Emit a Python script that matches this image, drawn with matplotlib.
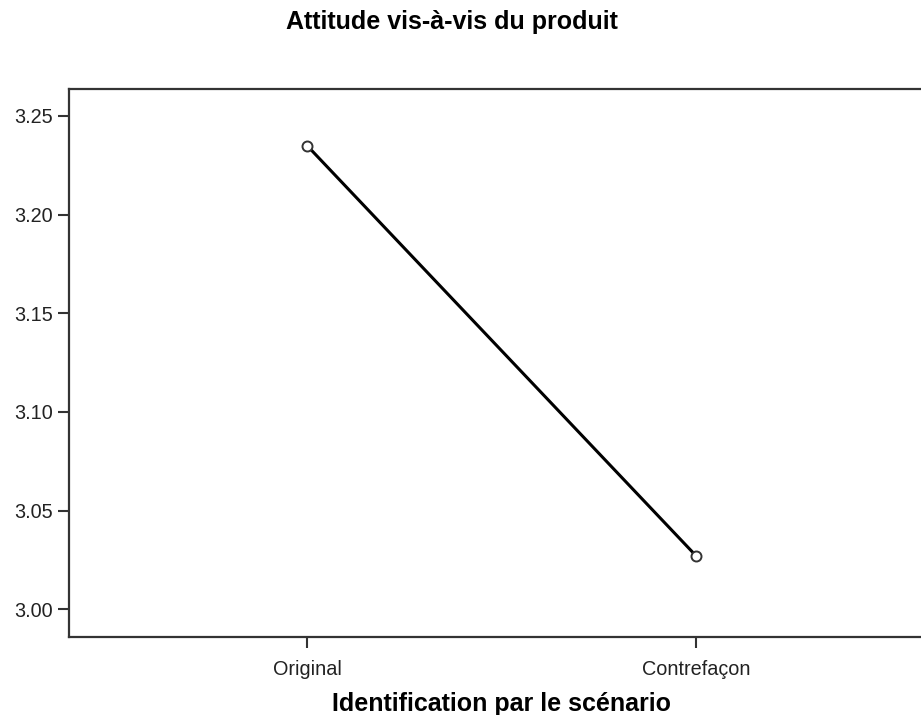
import matplotlib
matplotlib.use("Agg")
import matplotlib.pyplot as plt

# Données (moyennes marginales)
categories = ["Original", "Contrefaçon"]
moyennes = [3.235, 3.027]
yticks = [3.00, 3.05, 3.10, 3.15, 3.20, 3.25]

plt.rcParams["font.family"] = ["Liberation Sans", "DejaVu Sans"]

fig = plt.figure(figsize=(9.21, 7.15), dpi=100)
ax = fig.add_axes([0.0752, 0.1087, 0.9389, 0.7675])

x = list(range(len(categories)))
ax.plot(x, moyennes, color="black", linewidth=2.2,
        marker="o", markersize=7.2, markerfacecolor="white",
        markeredgecolor="#333333", markeredgewidth=1.4)

ax.set_xlim(-0.611, 1.611)
ax.set_ylim(2.9858, 3.2639)
ax.set_xticks(x)
ax.set_xticklabels(categories)
ax.set_yticks(yticks)
ax.set_yticklabels([f"{v:.2f}" for v in yticks])

for side in ["left", "bottom", "top"]:
    ax.spines[side].set_linewidth(1.6)
    ax.spines[side].set_color("#333333")
ax.spines["right"].set_visible(False)

ax.tick_params(axis="both", length=8, width=1.5, color="#333333",
               labelsize=14.3, labelcolor="#222222")
ax.tick_params(axis="y", pad=4)
ax.tick_params(axis="x", pad=8)

ax.set_xlabel("Identification par le scénario", fontsize=18,
              fontweight="bold", labelpad=10)
fig.text(452 / 921, 1 - 22 / 715, "Attitude vis-à-vis du produit",
         ha="center", va="center", fontsize=18, fontweight="bold")

fig.savefig("out.png", dpi=100)
